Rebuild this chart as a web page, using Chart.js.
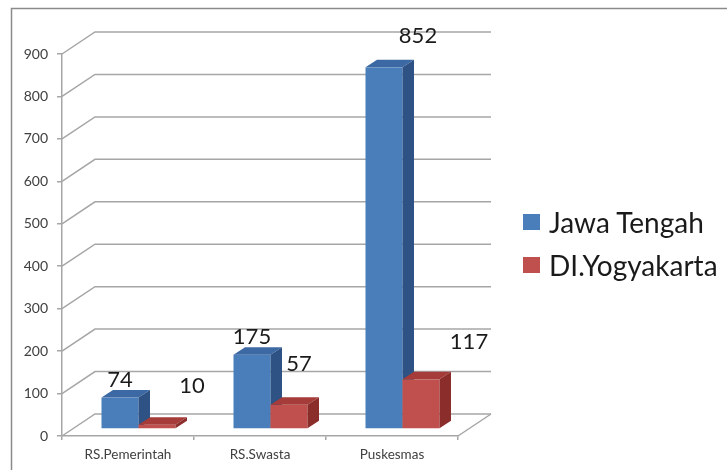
<!DOCTYPE html>
<html>
<head>
<meta charset="utf-8">
<script src="https://cdn.jsdelivr.net/npm/chart.js@4.4.0/dist/chart.umd.min.js"></script>
<style>
    body { margin: 0; background: #fff; }
    #wrap { position: relative; width: 727px; height: 475px; }
    #legend { position: absolute; left: 523px; top: 200px; font-family: Lato, sans-serif; font-size: 28px; color: #1a1a1a; }
    .item { display: flex; align-items: center; height: 43px; white-space: nowrap; }
    .box { width: 17px; height: 16px; margin-right: 9px; }
</style>
</head>
<body>
<div id="wrap">
    <canvas id="chart" width="727" height="475"></canvas>
    <div id="legend"></div>
</div>
<script>
// data
const categories = ['RS.Pemerintah', 'RS.Swasta', 'Puskesmas'];
const seriesNames = ['Jawa Tengah', 'DI.Yogyakarta'];
const jawaTengah = [74, 175, 852];
const diYogyakarta = [10, 57, 117];
const yMax = 900;
const yStep = 100;

// styling
const faces = [
    { front: '#4a7ebb', top: '#3c69a3', side: '#2d5283' },
    { front: '#c0504d', top: '#a53c39', side: '#8a2d2b' }
];
const WALL = { dx: 33, dy: -22 };
const BAR_SHIFT = { dx: 10.5, dy: -7 };
const BAR_DEPTH = { dx: 11.5, dy: -7.5 };
// label offsets from the bar's front-top centre (Excel placed them loosely)
const labelOffsets = [
    [[0, -18], [0, -18], [34, -31]],
    [[35, -39], [10, -41], [48, -37]]
];

function poly(ctx, pts, fill) {
    ctx.beginPath();
    ctx.moveTo(pts[0][0], pts[0][1]);
    for (let i = 1; i < pts.length; i++) ctx.lineTo(pts[i][0], pts[i][1]);
    ctx.closePath();
    ctx.fillStyle = fill;
    ctx.fill();
}

const threeD = {
    id: 'threeD',
    beforeDraw(chart) {
        const ctx = chart.ctx;
        ctx.save();
        ctx.strokeStyle = '#8a8a8a';
        ctx.lineWidth = 1.5;
        ctx.beginPath();
        ctx.moveTo(11.5, 470);
        ctx.lineTo(11.5, 8.5);
        ctx.lineTo(727, 8.5);
        ctx.stroke();
        ctx.restore();
    },
    beforeDatasetsDraw(chart) {
        const { ctx, chartArea: a, scales: { y } } = chart;
        ctx.save();
        ctx.strokeStyle = '#a6a6a6';
        ctx.lineWidth = 1.5;
        y.ticks.forEach(t => {
            const py = y.getPixelForValue(t.value);
            ctx.beginPath();
            ctx.moveTo(a.left, py);
            ctx.lineTo(a.left + WALL.dx, py + WALL.dy);
            ctx.lineTo(a.right + WALL.dx, py + WALL.dy);
            ctx.stroke();
        });
        ctx.beginPath();
        ctx.moveTo(a.right, a.bottom);
        ctx.lineTo(a.right + WALL.dx, a.bottom + WALL.dy);
        ctx.stroke();
        ctx.restore();
    },
    afterDatasetsDraw(chart) {
        const ctx = chart.ctx;
        const { dx, dy } = BAR_DEPTH;
        const labels = [];
        ctx.save();
        for (let i = 0; i < categories.length; i++) {
            chart.data.datasets.forEach((ds, d) => {
                const el = chart.getDatasetMeta(d).data[i];
                const { x, y, base, width } = el.getProps(['x', 'y', 'base', 'width'], true);
                const l = x - width / 2 + BAR_SHIFT.dx, r = x + width / 2 + BAR_SHIFT.dx;
                const t = y + BAR_SHIFT.dy, b = base + BAR_SHIFT.dy;
                const c = faces[d];
                ctx.fillStyle = c.front;
                ctx.fillRect(l, t, r - l, b - t);
                poly(ctx, [[l, t], [l + dx, t + dy], [r + dx, t + dy], [r, t]], c.top);
                poly(ctx, [[r, t], [r + dx, t + dy], [r + dx, b + dy], [r, b]], c.side);
                const off = labelOffsets[d][i];
                labels.push([String(ds.data[i]), (l + r) / 2 + off[0], t + off[1]]);
            });
        }
        ctx.fillStyle = '#1a1a1a';
        ctx.font = '22px Lato, sans-serif';
        ctx.textAlign = 'center';
        ctx.textBaseline = 'middle';
        labels.forEach(([s, lx, ly]) => ctx.fillText(s, lx, ly));
        ctx.restore();
    }
};

function initChart() {
    const ctx = document.getElementById('chart').getContext('2d');
    new Chart(ctx, {
        type: 'bar',
        data: {
            labels: categories,
            datasets: [
                { label: seriesNames[0], data: jawaTengah, backgroundColor: 'transparent' },
                { label: seriesNames[1], data: diYogyakarta, backgroundColor: 'transparent' }
            ]
        },
        options: {
            responsive: false,
            animation: false,
            events: [],
            categoryPercentage: 74 / 132,
            barPercentage: 1,
            layout: { padding: { left: 11, top: 54, right: 269, bottom: 0 } },
            plugins: { legend: { display: false }, tooltip: { enabled: false } },
            scales: {
                x: {
                    afterFit(s) { s.height = 39; },
                    grid: { drawOnChartArea: false, tickLength: 4, color: '#a6a6a6', lineWidth: 1.5 },
                    border: { color: '#a6a6a6', width: 1.5 },
                    ticks: { color: '#404040', padding: 7, font: { family: 'Lato', size: 13.5 } }
                },
                y: {
                    min: 0,
                    max: yMax,
                    afterFit(s) { s.width = 51; },
                    grid: { drawOnChartArea: false, tickLength: 5, color: '#a6a6a6', lineWidth: 1.5 },
                    border: { color: '#a6a6a6', width: 1.5 },
                    ticks: { stepSize: yStep, color: '#404040', padding: 9, font: { family: 'Lato', size: 14 } }
                }
            }
        },
        plugins: [threeD]
    });
}

document.addEventListener('DOMContentLoaded', () => {
    initChart();
    const legend = document.getElementById('legend');
    seriesNames.forEach((name, i) => {
        const item = document.createElement('div');
        item.className = 'item';
        item.innerHTML = `<span class="box" style="background:${faces[i].front}"></span><span>${name}</span>`;
        legend.appendChild(item);
    });
});
</script>
</body>
</html>
